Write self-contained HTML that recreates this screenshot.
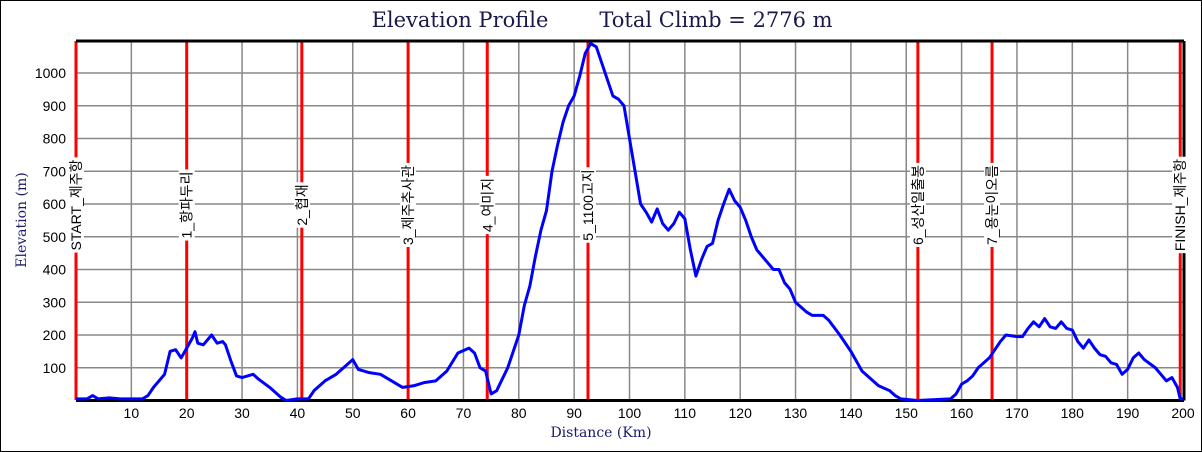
<!DOCTYPE html>
<html><head><meta charset="utf-8"><style>
body{margin:0;background:#fff}
svg{display:block}
.t{font-family:"Liberation Sans","DejaVu Sans",sans-serif;font-size:14px;fill:#000}
.lb{font-family:"Liberation Sans","Noto Sans CJK KR",sans-serif;font-size:14px;fill:#000}
</style></head><body>
<svg width="1202" height="452" viewBox="0 0 1202 452">
<rect x="0.5" y="0.5" width="1201" height="451" fill="#fff" stroke="#000"/>
<text x="460" y="27" text-anchor="middle" font-family="DejaVu Serif,Liberation Serif,serif" font-size="21" fill="#1a1a4a">Elevation Profile</text>
<text x="716" y="27" text-anchor="middle" font-family="DejaVu Serif,Liberation Serif,serif" font-size="21" fill="#1a1a4a">Total Climb = 2776 m</text>
<g id="grid" stroke="#888" stroke-width="1.5"></g>
<g id="reds" stroke="#f00" stroke-width="3"></g>
<line x1="76" y1="41" x2="1184" y2="41" stroke="#000" stroke-width="3"/>
<line x1="76" y1="400.5" x2="1184" y2="400.5" stroke="#000" stroke-width="3"/>
<line x1="1184" y1="41" x2="1184" y2="400.5" stroke="#000" stroke-width="3"/>
<polyline id="prof" fill="none" stroke="#00f" stroke-width="3" stroke-linejoin="round" vector-effect="non-scaling-stroke" transform="translate(76,400.5) scale(5.535,-0.3275)"/>
<g id="labels"></g>
<g id="ticks"></g>
<text transform="translate(26,220) rotate(-90)" text-anchor="middle" font-family="DejaVu Serif,Liberation Serif,serif" font-size="14" fill="#1a1a6a">Elevation (m)</text>
<text x="601" y="437" text-anchor="middle" font-family="DejaVu Serif,Liberation Serif,serif" font-size="14" fill="#1a1a6a">Distance (Km)</text>
</svg>
<script>
const X=k=>76+k*5.535, Y=m=>400.5-m*0.3275, ns="http://www.w3.org/2000/svg";
function el(p,t,a,txt){const e=document.createElementNS(ns,t);for(const k in a)e.setAttribute(k,a[k]);if(txt!=null)e.textContent=txt;document.getElementById(p).appendChild(e);return e;}
for(let k=10;k<200;k+=10){el("grid","line",{x1:X(k),x2:X(k),y1:41,y2:400});el("ticks","text",{x:X(k),y:418,"text-anchor":"middle",class:"t"},k);}
el("ticks","text",{x:X(200),y:418,"text-anchor":"middle",class:"t"},200);
for(let m=100;m<=1000;m+=100){el("grid","line",{x1:76,x2:1184,y1:Y(m),y2:Y(m)});el("ticks","text",{x:66,y:Y(m)+5,"text-anchor":"end",class:"t"},m);}
const L=[[0,"START_제주항"],[20,"1_항파두리"],[40.8,"2_협재"],[60,"3_제주추사관"],[74.3,"4_여미지"],[92.5,"5_1100고지"],[152.1,"6_성산일출봉"],[165.5,"7_용눈이오름"],[199.5,"FINISH_제주항"]];
for(const [k,s] of L){el("reds","line",{x1:X(k),x2:X(k),y1:41,y2:400});
 const g=el("labels","g",{transform:`translate(${X(k)+5},205) rotate(-90)`});
 const t=document.createElementNS(ns,"text");t.setAttribute("text-anchor","middle");t.setAttribute("class","lb");t.textContent=s;
 const r=document.createElementNS(ns,"rect");g.appendChild(r);g.appendChild(t);
 const b=t.getBBox();r.setAttribute("x",b.x-2);r.setAttribute("y",b.y);r.setAttribute("width",b.width+4);r.setAttribute("height",b.height);r.setAttribute("fill","#fff");}
const P=[0,5,2,5,3,15,4,5,6,8,8,5,10,5,12,5,13,15,14,40,16,80,17,150,18,155,19,130,20,160,21,190,21.5,210,22,175,23,170,24.5,200,25.5,175,26.5,180,27,170,28,120,29,75,30,70,31,75,32,80,33,65,35,40,37,10,38,0,40,5,42,5,43,30,45,60,47,80,49,110,50,125,51,95,53,85,55,80,57,60,59,40,61,45,63,55,65,60,67,90,69,145,71,160,72,145,73,100,74,90,75,20,76,30,78,100,79,150,80,200,81,290,82,350,83,440,84,520,85,580,86,700,87,780,88,850,89,900,90,930,91,990,92,1060,93,1090,94,1080,95,1030,96,980,97,930,98,920,99,900,100,800,101,700,102,600,103,575,104,545,105,585,106,540,107,520,108,540,109,575,110,555,111,460,112,380,113,430,114,470,115,480,116,550,117,600,118,645,119,610,120,590,121,550,122,500,123,460,125,420,126,400,127,400,128,360,129,340,130,300,132,270,133,260,135,260,136,245,138,200,140,150,141,120,142,90,144,60,145,45,147,30,148,15,149,5,152,0,158,5,159,20,160,50,161,60,162,75,163,100,165,130,167,180,168,200,170,195,171,195,172,220,173,240,174,225,175,250,176,225,177,220,178,240,179,220,180,215,181,180,182,160,183,185,184,160,185,140,186,135,187,115,188,110,189,80,190,95,191,130,192,145,193,125,195,100,196,80,197,60,198,70,199,40,199.5,5,200,5];
let s="";for(let i=0;i<P.length;i+=2)s+=P[i]+","+P[i+1]+" ";document.getElementById("prof").setAttribute("points",s);
</script>
</body></html>
